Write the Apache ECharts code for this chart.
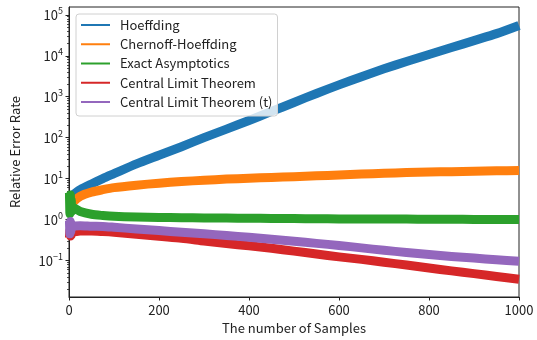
<!DOCTYPE html>
<html>
<head>
<meta charset="utf-8">
<script src="https://cdn.jsdelivr.net/npm/echarts@6/dist/echarts.min.js"></script>
<style>
  html, body { margin: 0; padding: 0; background: #fff; }
  #chart { width: 537px; height: 340px; }
</style>
</head>
<body>
<div id="chart"></div>
<script>
// sample counts (x) shared by the main part of each curve
var samples = [8, 25, 50, 75, 100, 150, 200, 250, 300, 350, 400, 450, 500,
               550, 600, 650, 700, 750, 800, 850, 900, 950, 1000];

var hoeffding = [3.98, 5.37, 7.41, 10, 13.2, 22.9, 37.2, 60.3, 100, 162, 263, 437, 724,
                 1202, 1950, 3090, 4786, 7244, 10715, 15849, 23442, 34674, 54954];
var chernoff = [2.63, 3.72, 4.68, 5.37, 6.03, 6.92, 7.76, 8.51, 9.12, 9.77, 10.2, 10.7, 11.2,
                11.7, 12.3, 12.9, 13.5, 14.1, 14.5, 14.8, 15.1, 15.5, 15.8];
var exactAsym = [2.0, 1.58, 1.35, 1.26, 1.2, 1.15, 1.13, 1.11, 1.1, 1.09, 1.08, 1.07, 1.06,
                 1.05, 1.04, 1.04, 1.03, 1.03, 1.02, 1.02, 1.01, 1.01, 1.0];
var clt = [0.50, 0.525, 0.525, 0.51, 0.49, 0.44, 0.39, 0.35, 0.30, 0.26, 0.23, 0.20, 0.17,
           0.145, 0.123, 0.107, 0.091, 0.078, 0.066, 0.056, 0.048, 0.041, 0.035];
var cltT = [0.69, 0.71, 0.69, 0.68, 0.65, 0.59, 0.54, 0.49, 0.45, 0.41, 0.37, 0.33, 0.295,
            0.263, 0.234, 0.204, 0.178, 0.158, 0.141, 0.126, 0.115, 0.105, 0.096];

// the first few samples swing a lot
var headSamples = [1, 2, 3, 4, 5, 6];
var exactAsymHead = [4.5, 1.4, 4.0, 1.5, 3.0, 1.6];
var cltHead = [0.36, 0.55, 0.40, 0.55, 0.42, 0.5];
var cltTHead = [0.95, 0.45, 0.90, 0.50, 0.80, 0.6];

var names = ['Hoeffding', 'Chernoff-Hoeffding', 'Exact Asymptotics',
             'Central Limit Theorem', 'Central Limit Theorem (t)'];
var colors = ['#1f77b4', '#ff7f0e', '#2ca02c', '#d62728', '#9467bd'];

var xTicks = [0, 200, 400, 600, 800, 1000];
var yTicks = [0.1, 1, 10, 100, 1000, 10000, 100000];
var yMinorTicks = [];
for (var k = -2; k <= 5; k++) {
    for (var m = 2; m <= 9; m++) {
        var v = m * Math.pow(10, k);
        if (v > 0.0129 && v < 155000) yMinorTicks.push(v);
    }
}

var font = '"Noto Sans CJK JP", "Noto Sans", sans-serif';

function pairs(xs, ys) {
    return xs.map(function (x, i) { return [x, ys[i]]; });
}

function lineSeries(idx, data) {
    return {
        name: names[idx],
        type: 'line',
        data: data,
        showSymbol: false,
        symbol: 'none',
        smooth: 0.25,
        color: colors[idx],
        lineStyle: { width: 9, color: colors[idx], join: 'round' },
        z: 2 + idx
    };
}

var chart = echarts.init(document.getElementById('chart'));
chart.setOption({
    animation: false,
    textStyle: { fontFamily: font },
    grid: {
        left: 69, right: 18, top: 7, bottom: 39,
        show: true, borderColor: '#222', borderWidth: 1, backgroundColor: '#fff'
    },
    legend: {
        orient: 'vertical',
        left: 76, top: 14,
        icon: 'rect',
        itemWidth: 29, itemHeight: 2,
        itemGap: 4.25,
        padding: [3.5, 5, 6.5, 5],
        backgroundColor: 'rgba(255,255,255,0.8)',
        borderColor: '#d0d0d0', borderWidth: 1, borderRadius: 3,
        textStyle: { fontFamily: font, fontSize: 13, color: '#222', lineHeight: 15, padding: [0, 0, 0, 5] },
        data: names
    },
    xAxis: {
        type: 'value',
        min: 0, max: 1000, interval: 200,
        name: 'The number of Samples',
        nameLocation: 'middle', nameGap: 25,
        nameTextStyle: { fontFamily: font, fontSize: 13, color: '#222', verticalAlign: 'top' },
        axisLine: { lineStyle: { color: '#222', width: 1 } },
        axisTick: { inside: false, length: 3.5, lineStyle: { color: '#222' } },
        axisLabel: { fontFamily: font, fontSize: 13, color: '#222', margin: 7,
                     customValues: xTicks,
                     formatter: function (val) { return String(val); } },
        splitLine: { show: false }
    },
    yAxis: [{
        type: 'log', logBase: 10,
        min: 0.0129, max: 155000,
        name: 'Relative Error Rate',
        nameLocation: 'middle', nameGap: 47,
        nameTextStyle: { fontFamily: font, fontSize: 13, color: '#222' },
        axisLine: { show: true, lineStyle: { color: '#222', width: 1 } },
        axisTick: { length: 3.5, lineStyle: { color: '#222' }, customValues: yTicks },
        axisLabel: {
            margin: 6,
            customValues: yTicks,
            formatter: function (val) {
                var e = Math.round(Math.log10(val));
                return '{b|10}{e|' + String(e).replace('-', '\u2212') + '}';
            },
            rich: {
                b: { fontFamily: font, fontSize: 13, color: '#222' },
                e: { fontFamily: font, fontSize: 9, color: '#222', padding: [0, 0, 8, 0] }
            }
        },
        splitLine: { show: false }
    }, {
        type: 'log', logBase: 10,
        min: 0.0129, max: 155000,
        position: 'left',
        axisLine: { show: false },
        axisTick: { length: 2, lineStyle: { color: '#222', width: 0.8 }, customValues: yMinorTicks },
        axisLabel: { show: false },
        splitLine: { show: false }
    }],
    series: [
        lineSeries(0, pairs(samples, hoeffding)),
        lineSeries(1, pairs(samples, chernoff)),
        lineSeries(2, pairs(headSamples, exactAsymHead).concat(pairs(samples, exactAsym))),
        lineSeries(3, pairs(headSamples, cltHead).concat(pairs(samples, clt))),
        lineSeries(4, pairs(headSamples, cltTHead).concat(pairs(samples, cltT)))
    ]
});
</script>
</body>
</html>
